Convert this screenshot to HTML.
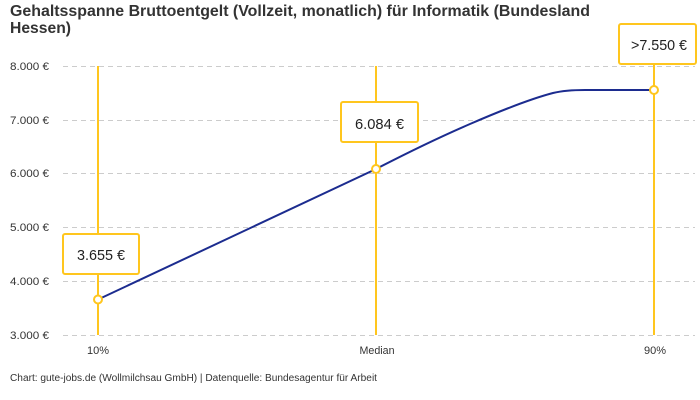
<!DOCTYPE html>
<html>
<head>
<meta charset="utf-8">
<style>
html,body{margin:0;padding:0;background:#fff;}
svg{display:block;}
text{font-family:"Liberation Sans",sans-serif;}
</style>
</head>
<body>
<svg width="700" height="400" viewBox="0 0 700 400" xmlns="http://www.w3.org/2000/svg">
<rect width="700" height="400" fill="#fff"/>
<!-- Title -->
<text x="10" y="16" font-size="16" font-weight="bold" fill="#333" textLength="580" lengthAdjust="spacingAndGlyphs">Gehaltsspanne Bruttoentgelt (Vollzeit, monatlich) für Informatik (Bundesland</text>
<text x="10" y="33" font-size="16" font-weight="bold" fill="#333" textLength="61" lengthAdjust="spacingAndGlyphs">Hessen)</text>

<!-- Gridlines -->
<g stroke="#cccccc" stroke-width="1" stroke-dasharray="5,4">
<line x1="63" y1="66.5" x2="695" y2="66.5"/>
<line x1="63" y1="120.5" x2="695" y2="120.5"/>
<line x1="63" y1="173.5" x2="695" y2="173.5"/>
<line x1="63" y1="227.5" x2="695" y2="227.5"/>
<line x1="63" y1="281.5" x2="695" y2="281.5"/>
<line x1="63" y1="335.5" x2="695" y2="335.5"/>
</g>

<!-- Y labels -->
<g font-size="11" fill="#333">
<text x="10" y="70" textLength="39" lengthAdjust="spacingAndGlyphs">8.000 €</text>
<text x="10" y="124" textLength="39" lengthAdjust="spacingAndGlyphs">7.000 €</text>
<text x="10" y="177" textLength="39" lengthAdjust="spacingAndGlyphs">6.000 €</text>
<text x="10" y="231" textLength="39" lengthAdjust="spacingAndGlyphs">5.000 €</text>
<text x="10" y="285" textLength="39" lengthAdjust="spacingAndGlyphs">4.000 €</text>
<text x="10" y="339" textLength="39" lengthAdjust="spacingAndGlyphs">3.000 €</text>
</g>

<!-- Vertical yellow lines -->
<g stroke="#FFC61E" stroke-width="2">
<line x1="98" y1="66" x2="98" y2="335"/>
<line x1="376" y1="66" x2="376" y2="335"/>
<line x1="654" y1="64" x2="654" y2="335"/>
</g>

<!-- Curve -->
<path d="M98,299.5 L376,169 C405,154 440,137 470,124 C500,111 530,99 553,93 C563,90.6 572,90 585,90 L654,90" fill="none" stroke="#1c2c8f" stroke-width="2"/>

<!-- Boxes -->
<g stroke="#FFC61E" stroke-width="2" fill="#fff">
<rect x="63" y="234" width="76" height="40" rx="2"/>
<rect x="341" y="102" width="77" height="40" rx="2"/>
<rect x="619" y="24" width="77" height="40" rx="2"/>
</g>
<g font-size="15" fill="#222">
<text x="77" y="260" textLength="48" lengthAdjust="spacingAndGlyphs">3.655 €</text>
<text x="355" y="129" textLength="49" lengthAdjust="spacingAndGlyphs">6.084 €</text>
<text x="631" y="50" textLength="56" lengthAdjust="spacingAndGlyphs">&gt;7.550 €</text>
</g>

<!-- Points -->
<g stroke="#FFC61E" stroke-width="2" fill="#fff">
<circle cx="98" cy="299.5" r="4"/>
<circle cx="376" cy="169" r="4"/>
<circle cx="654" cy="90" r="4"/>
</g>

<!-- X labels -->
<g font-size="11" fill="#333" text-anchor="middle">
<text x="98" y="354">10%</text>
<text x="377" y="354" textLength="35" lengthAdjust="spacingAndGlyphs">Median</text>
<text x="655" y="354">90%</text>
</g>

<!-- Footer -->
<text x="10" y="381" font-size="10" fill="#333" textLength="367" lengthAdjust="spacingAndGlyphs">Chart: gute-jobs.de (Wollmilchsau GmbH) | Datenquelle: Bundesagentur für Arbeit</text>
</svg>
</body>
</html>
